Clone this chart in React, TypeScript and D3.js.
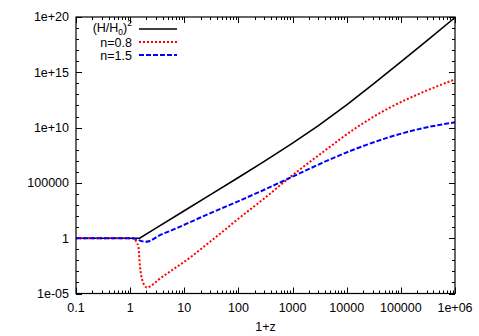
import React, { useEffect, useRef } from 'react';
import * as d3 from 'd3';

// 1+z sample points and values
const blackZ = [0.1, 1.5, 3, 10, 30, 100, 300, 1000, 3000, 1e4, 3e4, 1e5, 3e5, 1e6];
const blackH2 = [1, 1, 8.1, 300, 8.2e3, 3.1e5, 8.8e6, 3.9e8, 1.5e10, 1.15e12, 7.7e13, 8.7e15, 7e17, 9e19];

const redZ = [0.1, 0.5, 1, 1.2, 1.32, 1.42, 1.52, 1.67, 1.85, 2.05, 2.35, 3.3, 6.7, 13.6, 27.5, 56, 86, 285, 890, 3660, 15100, 62100, 256000, 1e6];
const redN08 = [1, 1, 1, 0.9, 0.4, 0.17, 2.7e-3, 1.7e-4, 5.5e-5, 3.4e-5, 4.5e-5, 1.7e-4, 1.95e-3, 2.2e-2, 0.35, 5.6, 32, 3.2e3, 3.2e5, 6.3e7, 1e10, 6.3e11, 1.6e13, 2.3e14];

const blueZ = [0.1, 1, 1.3, 1.6, 1.9, 2.3, 3.3, 6.7, 13.6, 27.5, 86, 320, 890, 3660, 15100, 62100, 256000, 1e6];
const blueN15 = [1, 1, 0.83, 0.56, 0.47, 0.56, 1.55, 6.9, 32, 150, 1600, 2.8e4, 2.8e5, 7e6, 1.26e8, 1.4e9, 8.9e9, 3e10];

const xTicks = [0.1, 1, 10, 100, 1000, 10000, 100000, 1e6];
const xTickLabels = ['0.1', '1', '10', '100', '1000', '10000', '100000', '1e+06'];
const yTicks = [1e-5, 1, 1e5, 1e10, 1e15, 1e20];
const yTickLabels = ['1e-05', '1', '100000', '1e+10', '1e+15', '1e+20'];

const legendLabels = ['n=0.8', 'n=1.5'];

export default function App() {
  const ref = useRef<SVGSVGElement>(null);

  useEffect(() => {
    const width = 479, height = 336;
    const margin = { top: 17, right: 24, bottom: 42.5, left: 76 };
    const svg = d3.select(ref.current);
    svg.selectAll('*').remove();
    const font = '"Liberation Sans", Arial, sans-serif';

    const x = d3.scaleLog().domain([0.1, 1e6]).range([margin.left, width - margin.right]);
    const y = d3.scaleLog().domain([1e-5, 1e20]).range([height - margin.bottom, margin.top]);
    const [x0, x1] = x.range();
    const [y0, y1] = y.range();

    const ticks = svg.append('g').attr('stroke', '#000').attr('stroke-width', 1);
    // x ticks, bottom and top, major and minor
    for (let e = -1; e <= 6; e++) {
      for (let m = 1; m <= 9; m++) {
        const v = m * Math.pow(10, e);
        if (v > 1e6 * 1.0001) continue;
        const px = Math.round(x(v)) + 0.5;
        const len = m === 1 ? 6 : 3;
        ticks.append('line').attr('x1', px).attr('x2', px).attr('y1', y0).attr('y2', y0 - len);
        ticks.append('line').attr('x1', px).attr('x2', px).attr('y1', y1).attr('y2', y1 + len);
      }
    }
    // y ticks every decade, labelled every five
    for (let e = -5; e <= 20; e++) {
      const py = Math.round(y(Math.pow(10, e))) + 0.5;
      const len = e % 5 === 0 ? 6 : 3;
      ticks.append('line').attr('x1', x0).attr('x2', x0 + len).attr('y1', py).attr('y2', py);
      ticks.append('line').attr('x1', x1).attr('x2', x1 - len).attr('y1', py).attr('y2', py);
    }

    svg.append('g').selectAll('text').data(xTicks).enter().append('text')
      .attr('x', (d) => x(d)).attr('y', y0 + 18)
      .attr('text-anchor', 'middle').attr('font-family', font).attr('font-size', 12.5)
      .text((d, i) => xTickLabels[i]);

    svg.append('g').selectAll('text').data(yTicks).enter().append('text')
      .attr('x', x0 - 7).attr('y', (d) => y(d)).attr('dy', '0.35em')
      .attr('text-anchor', 'end').attr('font-family', font).attr('font-size', 12.5)
      .text((d, i) => yTickLabels[i]);

    svg.append('text').attr('x', (x0 + x1) / 2).attr('y', 331)
      .attr('text-anchor', 'middle').attr('font-family', font).attr('font-size', 12.5)
      .text('1+z');

    const line = (curve: any) => d3.line<[number, number]>()
      .x((d) => x(d[0])).y((d) => y(d[1])).curve(curve);

    const plot = svg.append('g');
    plot.append('path').datum(d3.zip(blackZ, blackH2) as [number, number][])
      .attr('d', line(d3.curveLinear)).attr('fill', 'none')
      .attr('stroke', '#000').attr('stroke-width', 1.6);
    plot.append('path').datum(d3.zip(redZ, redN08) as [number, number][])
      .attr('d', line(d3.curveMonotoneX)).attr('fill', 'none')
      .attr('stroke', '#ff0000').attr('stroke-width', 2).attr('stroke-dasharray', '2,2');
    plot.append('path').datum(d3.zip(blueZ, blueN15) as [number, number][])
      .attr('d', line(d3.curveMonotoneX)).attr('fill', 'none')
      .attr('stroke', '#0000ff').attr('stroke-width', 2).attr('stroke-dasharray', '5,2');

    // border
    svg.append('rect').attr('x', x0).attr('y', y1).attr('width', x1 - x0).attr('height', y0 - y1)
      .attr('fill', 'none').attr('stroke', '#000').attr('stroke-width', 1.2);

    // legend
    const lg = svg.append('g').attr('font-family', font).attr('font-size', 12.5);
    const t0 = lg.append('text').attr('x', 132).attr('y', 32).attr('text-anchor', 'end');
    t0.append('tspan').text('(H/H');
    t0.append('tspan').attr('font-size', 8.5).attr('dy', 2.5).text('0');
    t0.append('tspan').attr('dy', -2.5).text(')');
    t0.append('tspan').attr('font-size', 8.5).attr('dy', -6).text('2');
    lg.append('line').attr('x1', 139).attr('x2', 177).attr('y1', 29).attr('y2', 29)
      .attr('stroke', '#000').attr('stroke-width', 1.6);
    lg.append('text').attr('x', 132).attr('y', 46.5).attr('text-anchor', 'end').text(legendLabels[0]);
    lg.append('line').attr('x1', 139).attr('x2', 177).attr('y1', 42).attr('y2', 42)
      .attr('stroke', '#ff0000').attr('stroke-width', 2).attr('stroke-dasharray', '2,2');
    lg.append('text').attr('x', 132).attr('y', 59.5).attr('text-anchor', 'end').text(legendLabels[1]);
    lg.append('line').attr('x1', 139).attr('x2', 177).attr('y1', 55).attr('y2', 55)
      .attr('stroke', '#0000ff').attr('stroke-width', 2).attr('stroke-dasharray', '5,2');
  }, []);

  return (
    <svg ref={ref} width={479} height={336}
      style={{ position: 'absolute', left: 0, top: 0, background: '#fff' }} />
  );
}
